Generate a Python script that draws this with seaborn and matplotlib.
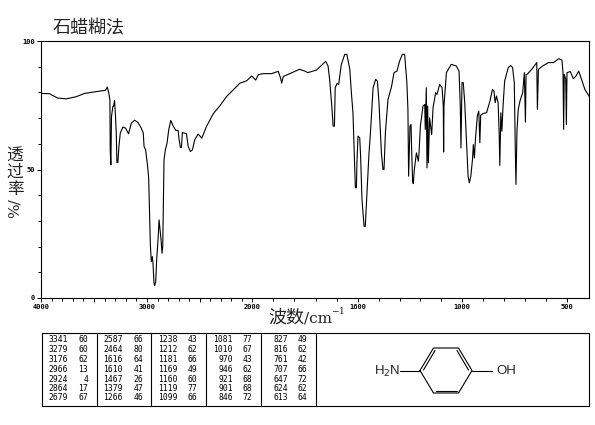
import numpy as np
import pandas as pd
import matplotlib
matplotlib.use('Agg')
import matplotlib.pyplot as plt
import seaborn as sns

# spectrum
wavenumber = [4000, 3921, 3842, 3763, 3669, 3590, 3448, 3391, 3375, 3360, 3350, 3347, 3341, 3335, 3322, 3316, 3306,
              3297, 3290, 3284, 3275, 3265, 3252, 3227, 3202, 3174, 3148, 3117, 3085, 3054, 3035, 3028, 3013,
              2994, 2984, 2978, 2968, 2959, 2949, 2943, 2933, 2927, 2917, 2908, 2895, 2885, 2876, 2866, 2857,
              2850, 2844, 2838, 2825, 2809, 2793, 2774, 2752, 2726, 2704, 2694, 2682, 2672, 2663, 2624, 2608,
              2586, 2567, 2545, 2513, 2478, 2433, 2369, 2306, 2242, 2178, 2115, 2051, 2003, 1986, 1976, 1957,
              1926, 1901, 1892, 1888, 1882, 1857, 1838, 1820, 1801, 1789, 1757, 1738, 1722, 1713, 1707, 1698,
              1694, 1689, 1686, 1679, 1673, 1663, 1650, 1642, 1631, 1625, 1619, 1613, 1610, 1606, 1604, 1600,
              1590, 1585, 1577, 1565, 1558, 1546, 1537, 1527, 1513, 1498, 1488, 1479, 1465, 1456, 1450, 1442,
              1427, 1408, 1392, 1375, 1360, 1344, 1331, 1318, 1312, 1308, 1304, 1300, 1294, 1291, 1285, 1281,
              1275, 1263, 1252, 1248, 1240, 1225, 1215, 1212, 1206, 1202, 1198, 1194, 1187, 1175, 1167, 1152,
              1144, 1129, 1115, 1108, 1106, 1104, 1090, 1062, 1033, 1017, 1010, 1006, 1000, 994, 987, 979, 971,
              965, 958, 950, 946, 941, 936, 927, 920, 915, 911, 899, 883, 867, 855, 848, 842, 836, 828, 823,
              820, 815, 810, 805, 797, 780, 768, 759, 751, 746, 743, 738, 732, 724, 711, 703, 698, 695, 690,
              668, 644, 641, 636, 612, 588, 564, 540, 524, 519, 516, 513, 506, 503, 500, 485, 471, 459, 447,
              434, 419, 400]
transmittance = [79.6, 79.5, 77.8, 77.5, 78.3, 79.6, 80.5, 80.8, 82.1, 79.7, 77.1, 57.7, 51.8, 70.6, 74.5, 74.5, 76.8,
                 70.6, 64.2, 52.7, 52.7, 59, 64.2, 66.5, 66.1, 63.9, 68, 69.2, 68.3, 66.1, 64.2, 59, 57.7,
                 51.2, 46.6, 36.9, 20.6, 14.2, 16.1, 13.5, 5.7, 4.8, 6.4, 14.8, 22.6, 30.4, 26.5, 22.6, 17.4,
                 20, 38.2, 53.8, 57.7, 60.3, 65.5, 69.1, 67, 65.2, 65.2, 61.6, 58.6, 58.6, 64.4, 63.9, 59,
                 57, 57.7, 61.6, 63.8, 62.2, 66.8, 71.7, 74.8, 78.4, 81, 83.6, 84.5, 86.4, 84.8, 86.9, 87.3,
                 87.3, 88.2, 85.5, 83.6, 86.2, 87.3, 88.2, 89, 88.3, 87.7, 88.7, 90.5, 92.1, 90.3, 85, 73.4,
                 66.9, 66.9, 81.8, 83.5, 83.1, 90.9, 94.8, 94.8, 89, 79.9, 72.1, 52.6, 42.9, 42.9, 52.6, 63,
                 62.3, 55.2, 38.3, 27.9, 27.9, 43.5, 55.8, 65.6, 81.8, 85.1, 84.4, 76, 56.5, 50, 50, 64.3,
                 77.3, 81.8, 87.7, 88.3, 92.2, 94.8, 94.8, 83.8, 73.4, 47.4, 57.8, 66.9, 67.5, 59, 45.5, 44.5,
                 50, 56.5, 53.2, 56.5, 66.9, 74.7, 75.3, 65.6, 81.8, 50.6, 74.7, 52.6, 70.1, 63.6, 74, 79.9,
                 79.2, 83.1, 81.8, 74.7, 56.8, 74.7, 87.7, 90.9, 90.3, 88.3, 74.7, 58.4, 83.8, 83.8, 76, 61.7, 47.4,
                 44.8, 47.4, 53.9, 59.7, 54.5, 61.7, 70.8, 72.7, 60.4, 71.1, 71.8, 72.1, 76.6, 81.2, 80.5, 76, 78.6, 76,
                 64.3, 51.6, 72.1, 64.9, 74, 84.4, 89.6, 90.5, 89.6, 83.8, 56.8, 44.2, 65.6, 73.4, 76.6, 79.9, 87.7, 68.4, 87, 87,
                 89, 91.6, 73.4, 89, 90.5, 91.6, 91.6, 93.1, 92.6, 87.7, 65.6, 87, 85.1, 67.5, 87.7, 88.1, 85.3, 86.4, 88.3,
                 85.1, 81.2, 78.6]

# peak table, one list per column pair
table_wn = [[3341, 3279, 3176, 2966, 2924, 2864, 2679],
            [2587, 2464, 1616, 1610, 1467, 1379, 1266],
            [1238, 1212, 1181, 1169, 1160, 1119, 1099],
            [1081, 1010, 970, 946, 921, 901, 846],
            [827, 816, 761, 707, 647, 624, 613]]
table_t = [[60, 60, 62, 13, 4, 17, 67],
           [66, 80, 64, 41, 26, 47, 46],
           [43, 62, 66, 49, 60, 77, 66],
           [77, 67, 43, 62, 68, 68, 72],
           [49, 62, 42, 66, 72, 62, 64]]

x_major = [4000, 3500, 3000, 2500, 2000, 1600, 1000, 500]
x_labels = ['4000', '', '3000', '', '2000', '1600', '1000', '500']
x_minor = [3900, 3800, 3700, 3600, 3400, 3300, 3200, 3100, 2900, 2800, 2700, 2600, 2400, 2300, 2200, 2100,
           1920, 1840, 1760, 1680, 1480, 1360, 1240, 1120, 900, 800, 700, 600]

# the wavenumber axis changes scale at 2000 and 1000 cm-1
scale_wn = [400, 500, 1000, 1600, 2000, 3000, 4000]
scale_pos = [0, 22, 127, 231, 337, 442, 548]


def forward(x):
    return np.interp(x, scale_wn, scale_pos)


def inverse(p):
    return np.interp(p, scale_pos, scale_wn)


sns.set_theme(style='white')
plt.rcParams['font.family'] = ['Noto Sans CJK SC', 'DejaVu Sans']
plt.rcParams['mathtext.fontset'] = 'dejavuserif'

df = pd.DataFrame({'wn': wavenumber, 't': transmittance})

fig = plt.figure(figsize=(5.95, 4.25), dpi=100)
ax = fig.add_axes([41 / 595, (425 - 298) / 425, 548 / 595, 257 / 425])
ax.set_xscale('function', functions=(forward, inverse))
sns.lineplot(data=df, x='wn', y='t', estimator=None, sort=False, color='black', linewidth=0.8, ax=ax)
ax.set_xlim(4000, 400)
ax.set_ylim(0, 100)
ax.set_xlabel('')
ax.set_ylabel('')
ax.set_xticks(x_major)
ax.set_xticklabels(x_labels, fontsize=5, family='DejaVu Sans Mono', fontweight='bold')
ax.set_xticks(x_minor, minor=True)
ax.set_yticks([0, 50, 100])
ax.set_yticklabels(['0', '50', '100'], fontsize=5, family='DejaVu Sans Mono', fontweight='bold')
ax.set_yticks([10, 20, 30, 40, 60, 70, 80, 90], minor=True)
ax.tick_params(which='major', length=3, width=0.7, bottom=True, left=True, pad=1.5, color='black', labelcolor='black')
ax.tick_params(which='minor', length=2, width=0.7, bottom=True, left=True, color='black')
for s in ax.spines.values():
    s.set_color('black')
    s.set_linewidth(0.8)

# overlay in pixel units for the texts, the peak table and the structure
ov = fig.add_axes([0, 0, 1, 1], facecolor='none')
ov.set_xlim(0, 595)
ov.set_ylim(425, 0)
ov.axis('off')

ink = '#222222'
ov.text(53, 28, '石蜡糊法', fontsize=13, color=ink, va='center', ha='left')
for ch, yc in zip('透过率', [156, 172, 189]):
    ov.text(15, yc, ch, fontsize=12, color=ink, va='center', ha='center')
ov.text(15, 208, '%/', fontsize=11, color=ink, va='center', ha='center', rotation=90,
        family='DejaVu Serif')
ov.text(268, 318, '波数', fontsize=13, color=ink, va='center', ha='left')
ov.text(304, 318, '/cm', fontsize=11, color=ink, va='center', ha='left', family='DejaVu Serif')
ov.text(331, 311, '$-1$', fontsize=6.5, color=ink, va='center', ha='left')

# table frame
ov.plot([41.5, 589, 589, 41.5, 41.5], [333, 333, 406, 406, 333], color='black', lw=0.8)
for xd in [96.5, 151, 206, 261, 316]:
    ov.plot([xd, xd], [333, 406], color='black', lw=0.8)

row_y = [340, 349.5, 359, 369, 379, 388.5, 398]
wn_right = [68, 123, 178, 233, 288]
t_right = [88, 143, 197, 252, 307]
for c in range(5):
    for r in range(7):
        ov.text(wn_right[c], row_y[r], str(table_wn[c][r]), fontsize=5.8, family='DejaVu Sans Mono',
                ha='right', va='center', color='black')
        ov.text(t_right[c], row_y[r], str(table_t[c][r]), fontsize=5.8, family='DejaVu Sans Mono',
                ha='right', va='center', color='black')

# 4-aminophenol structure
ring_x = [420, 433.5, 458.5, 472, 458.5, 433.5, 420]
ring_y = [370.5, 348, 348, 370.5, 393, 393, 370.5]
ov.plot(ring_x, ring_y, color='black', lw=0.8)
ov.plot([423.5, 435], [370, 350.5], color='black', lw=0.8)
ov.plot([457, 468.5], [350.5, 370], color='black', lw=0.8)
ov.plot([435.5, 456.5], [390.5, 390.5], color='black', lw=0.8)
ov.plot([400, 420], [370.5, 370.5], color='black', lw=0.8)
ov.plot([472, 492], [370.5, 370.5], color='black', lw=0.8)
ov.text(400, 371, 'H$_2$N', fontsize=9.5, family='Liberation Sans', ha='right', va='center', color=ink,
        math_fontfamily='dejavusans')
ov.text(496, 371, 'OH', fontsize=9.5, family='Liberation Sans', ha='left', va='center', color=ink)

fig.savefig('out.png', dpi=100)
